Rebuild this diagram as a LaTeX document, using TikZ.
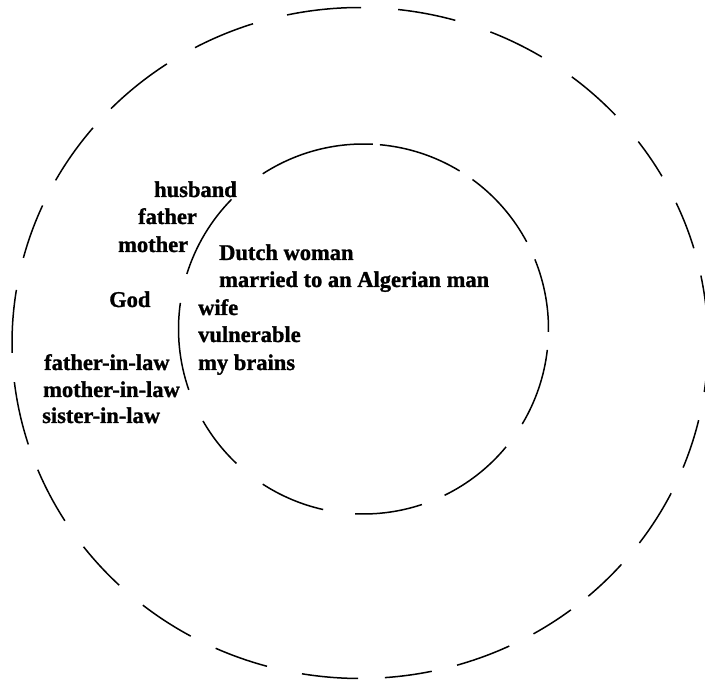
\documentclass[tikz,border=0pt]{standalone}
\usepackage{fontspec}
\setmainfont{Liberation Serif}
\newfontfamily\lblfont{Liberation Serif}[BoldFont={Liberation Serif Bold},BoldFeatures={FakeBold=1.2}]
\begin{document}
\begin{tikzpicture}[x=1pt,y=1pt,
  dashline/.style={line width=1.5pt,line cap=butt},
  lbl/.style={anchor=base west,inner sep=0pt,font=\lblfont\fontsize{22.5}{27}\selectfont\bfseries}]
\useasboundingbox (0,0) rectangle (705,680);
\coordinate (oc) at (360,337);
\coordinate (ic) at (363.5,351);
% outer dashed ellipse
\foreach \a/\b in {89.8/102.1, 74.1/83.7, 58.5/68.0, 42.8/52.5, 29.8/36.9, 16.4/24.7,
  3.5/11.6, -8.4/-1.5, -21.8/-13.3, -36.6/-26.6, -49/-41.3, -60.1/-52.7, -73.8/-64.6,
  -85.9/-78.1, -99.6/-90.3, -114.5/-105.5, -128.6/-119.1, -142.6/-133.8, -157.8/-148,
  -173.3/-162.4, 170.9/181.7, 155.8/165.3, 140.1/151.0, 123.7/135.7, 107.9/118.3}
  \draw[dashline] (oc) ++(\a:348 and 335.5) arc[start angle=\a, end angle=\b, x radius=348, y radius=335.5];
% inner dashed circle
\foreach \a/\b in {87.1/123.0, 58.7/84.9, 28.1/53.9, -0.9/22.1, -30.9/-6.5, -64/-39.6,
  -92.6/-71.6, -123/-102.6, -150.2/-133.4, 171.9/199.2, 135.5/162.7}
  \draw[dashline] (ic) ++(\a:185) arc[start angle=\a, end angle=\b, radius=185];
% labels
\node[lbl] (husband) at (154,483) {husband};
\node[lbl] (father) at (138,456) {father};
\node[lbl] (mother) at (118,428) {mother};
\node[lbl] (dutch) at (219,420) {Dutch woman};
\node[lbl] (married) at (219,393) {married to an Algerian man};
\node[lbl] (god) at (109,373) {God};
\node[lbl] (wife) at (198,365) {wife};
\node[lbl] (vuln) at (198,338) {vulnerable};
\node[lbl] (brains) at (198,310) {my brains};
\node[lbl] (fil) at (44,310) {father-in-law};
\node[lbl] (mil) at (43,283) {mother-in-law};
\node[lbl] (sil) at (42,257) {sister-in-law};
\end{tikzpicture}
\end{document}
